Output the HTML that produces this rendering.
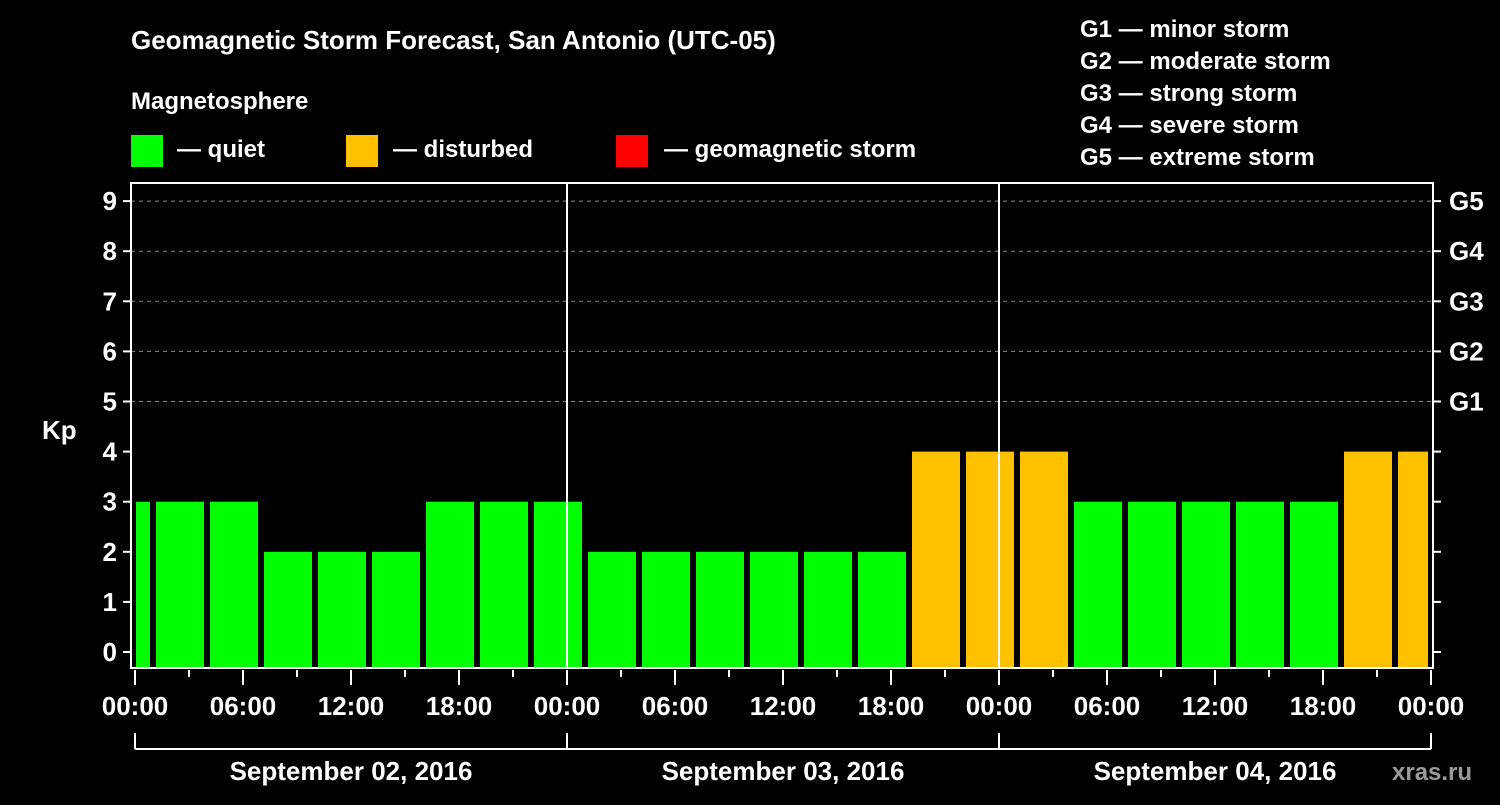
<!DOCTYPE html>
<html><head><meta charset="utf-8"><style>
body{margin:0;background:#000;width:1500px;height:800px;overflow:hidden}
svg text{font-family:"Liberation Sans",Arial,sans-serif;font-weight:bold;fill:#fff}
</style></head><body>
<svg id="chart" width="1500" height="800" xmlns="http://www.w3.org/2000/svg">
<rect width="1500" height="800" fill="#000"/>
<text x="131" y="49" font-size="26">Geomagnetic Storm Forecast, San Antonio (UTC-05)</text>
<text x="131" y="109" font-size="24">Magnetosphere</text>
<g><rect x="131" y="135" width="32" height="32" fill="#00ff00"/><text x="177" y="157" font-size="24">— quiet</text></g>
<g><rect x="346" y="135" width="32" height="32" fill="#ffc000"/><text x="393" y="157" font-size="24">— disturbed</text></g>
<g><rect x="616" y="135" width="32" height="32" fill="#ff0000"/><text x="664" y="157" font-size="24">— geomagnetic storm</text></g>
<g font-size="24">
<text x="1080" y="37">G1 — minor storm</text>
<text x="1080" y="69">G2 — moderate storm</text>
<text x="1080" y="101">G3 — strong storm</text>
<text x="1080" y="133">G4 — severe storm</text>
<text x="1080" y="165">G5 — extreme storm</text>
</g>
<text x="42" y="439" font-size="26">Kp</text>
<text x="1392" y="780" font-size="24" fill="#aaa" style="fill:#9a9a9a">xras.ru</text>
<g id="grid"></g><g id="bars"></g><g id="axes"></g>
</svg>
<script>
const kpValues=[3,3,3,2,2,2,3,3,3,2,2,2,2,2,2,4,4,4,3,3,3,3,3,4,4];
const kpStatus=["q","q","q","q","q","q","q","q","q","q","q","q","q","q","q","d","d","d","q","q","q","q","q","d","d"];
const kpTicks=[0,1,2,3,4,5,6,7,8,9];
const gLabels=["G1","G2","G3","G4","G5"];
const timeLabels=["00:00","06:00","12:00","18:00","00:00","06:00","12:00","18:00","00:00","06:00","12:00","18:00","00:00"];
const dayLabels=["September 02, 2016","September 03, 2016","September 04, 2016"];
const NS="http://www.w3.org/2000/svg";
const L=131,R=1433,T=183,B=668;
const y=v=>652-v*50.1;
const x=h=>135+h*18;
function mk(t,a,p){const e=document.createElementNS(NS,t);for(const k in a)e.setAttribute(k,a[k]);p.appendChild(e);return e;}
const grid=document.getElementById('grid'),bars=document.getElementById('bars'),axes=document.getElementById('axes');
kpTicks.forEach(v=>{
 if(v>=5){const l=mk('line',{x1:L,x2:R,y1:y(v),y2:y(v),stroke:'#888','stroke-dasharray':'4,4'},grid);
 
 }
 mk('line',{x1:L-8,x2:L,y1:y(v),y2:y(v),stroke:'#fff','stroke-width':2},axes);
 mk('line',{x1:R,x2:R+8,y1:y(v),y2:y(v),stroke:'#fff','stroke-width':2},axes);
 const t=mk('text',{x:L-14,y:y(v)+9,'font-size':26,'text-anchor':'end'},axes);t.textContent=v;
 
 
});
gLabels.forEach((g,i)=>{const t=mk('text',{x:1449,y:y(5+i)+9,'font-size':26},axes);t.textContent=g;
 
 });
kpValues.forEach((v,k)=>{
 let x0=x(3*k-2)+3,x1=x0+48;x0=Math.max(x0,L+5);x1=Math.min(x1,1428);
 const r=mk('rect',{x:x0,y:y(v),width:x1-x0,height:B-y(v),fill:kpStatus[k]=='d'?'#ffc000':'#00ff00'},bars);
 
 
});
[1,2].forEach(d=>mk('line',{x1:x(24*d),x2:x(24*d),y1:T,y2:B,stroke:'#fff','stroke-width':2},axes));
const fr=mk('rect',{x:L,y:T,width:R-L,height:B-T,fill:'none',stroke:'#fff','stroke-width':2},axes);


for(let h=0;h<=72;h+=3){const maj=h%6==0;mk('line',{x1:x(h),x2:x(h),y1:B+2,y2:B+(maj?17:9),stroke:'#fff','stroke-width':2},axes);}
timeLabels.forEach((s,i)=>{const t=mk('text',{x:x(6*i),y:715,'font-size':26,'text-anchor':'middle'},axes);t.textContent=s;
 
 });
mk('line',{x1:x(0),x2:x(72),y1:749,y2:749,stroke:'#fff','stroke-width':2},axes);
for(let d=0;d<=3;d++)mk('line',{x1:x(24*d),x2:x(24*d),y1:733,y2:749,stroke:'#fff','stroke-width':2},axes);
dayLabels.forEach((s,i)=>{const t=mk('text',{x:x(24*i+12),y:780,'font-size':26,'text-anchor':'middle'},axes);t.textContent=s;
 
 });
</script>
</body></html>
